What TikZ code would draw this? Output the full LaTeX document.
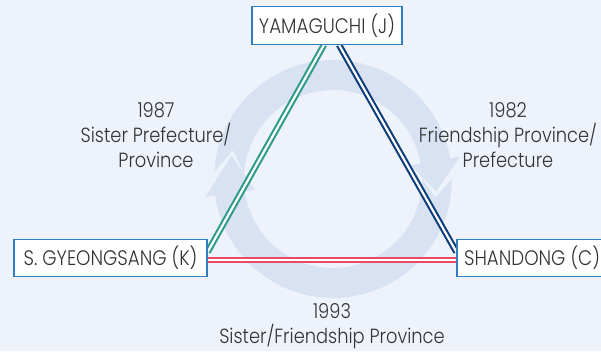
\documentclass[tikz,border=0pt]{standalone}
\usepackage{fontspec}
\setmainfont{Poppins Light}
\newfontfamily\reffont[FakeStretch=0.87]{Poppins Light}
\pgfdeclarelayer{ringlayer}
\pgfdeclarelayer{linelayer}
\pgfsetlayers{ringlayer,linelayer,main}
\definecolor{bgc}{HTML}{EEF3FB}
\definecolor{ringc}{HTML}{D8E2F3}
\definecolor{boxborder}{HTML}{2F7CC2}
\definecolor{greenl}{HTML}{2E9B88}
\definecolor{navyl}{HTML}{0C3D78}
\definecolor{redline}{HTML}{E94A66}
\definecolor{txt}{HTML}{333333}
\begin{document}
\begin{tikzpicture}[x=1pt,y=-1pt,
  place/.style={draw=boxborder, fill=white, line width=1.2pt, minimum height=37.5pt,
    inner xsep=6pt, font=\reffont\fontsize{21}{25}\selectfont, text=txt},
  yearlabel/.style={align=center, font=\reffont\fontsize{20.5}{25}\selectfont, text=txt},
  link/.style={line width=2.1pt, double=white, double distance=2.2pt},
]
\begin{pgfonlayer}{ringlayer}
\fill[bgc] (0,0) rectangle (601,351);
\begin{scope}[shift={(333,179)}, y=1pt]
\fill[ringc] (176.6:119) arc[start angle=176.6, end angle=10, radius=119] -- (10:129) -- (-7:104) -- (10:79) -- (10:89) arc[start angle=10, end angle=176.6, radius=89] -- (164:104) -- cycle;
\fill[ringc] (0:119) arc[start angle=0, end angle=-172, radius=119] -- (-172:129) -- (-193:104) -- (-172:79) -- (-172:89) arc[start angle=-172, end angle=0, radius=89] -- (-10:104) -- cycle;
\end{scope}
\end{pgfonlayer}
\useasboundingbox (0,0) rectangle (601,351);

\node[place, minimum width=150pt] (Y) at (327,25.5) {YAMAGUCHI (J)};
\node[place, minimum width=193pt] (K) at (110.5,258) {S. GYEONGSANG (K)};
\node[place, minimum width=150pt] (C) at (532,258) {SHANDONG (C)};

\begin{pgfonlayer}{linelayer}
\draw[link, draw=greenl] ([xshift=-3pt]Y.south) -- ([yshift=6pt]K.east);
\draw[link, draw=navyl] ([xshift=12pt]Y.south) -- ([yshift=6pt]C.west);
\draw[redline, line width=6pt] ([yshift=-2pt]K.east) -- ([yshift=-2pt]C.west);
\draw[white, line width=2pt] ([yshift=-2pt]K.east) -- ([yshift=-2pt]C.west);
\end{pgfonlayer}

\node[yearlabel] (L1) at (156,135) {1987\\Sister Prefecture/\\Province};
\node[yearlabel] (L2) at (508,135) {1982\\Friendship Province/\\Prefecture};
\node[yearlabel] (L3) at (332,326) {1993\\Sister/Friendship Province};
\end{tikzpicture}
\end{document}
